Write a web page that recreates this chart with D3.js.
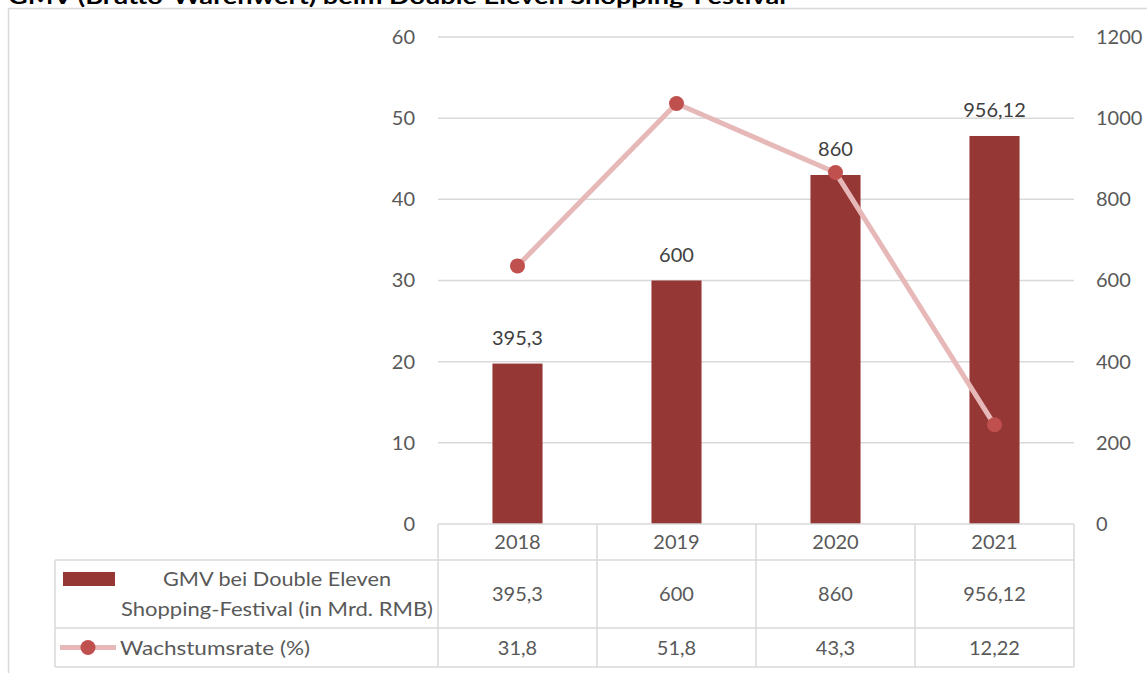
<!DOCTYPE html>
<html>
<head>
<meta charset="utf-8">
<script src="https://cdn.jsdelivr.net/npm/d3@7"></script>
<style>
  html, body { margin: 0; padding: 0; background: #fff; }
  svg { display: block; }
  text { font-family: Lato, "Open Sans", sans-serif; }
</style>
</head>
<body>
<svg id="chart" width="1147" height="673"></svg>
<script>
// Data
const titleText = "GMV (Brutto-Warenwert) beim Double Eleven Shopping-Festival";
const years = ["2018", "2019", "2020", "2021"];
const gmv = [395.3, 600, 860, 956.12];
const gmvLabels = ["395,3", "600", "860", "956,12"];
const growth = [31.8, 51.8, 43.3, 12.22];
const growthLabels = ["31,8", "51,8", "43,3", "12,22"];
const leftTicks = [0, 10, 20, 30, 40, 50, 60];
const rightTicks = [0, 200, 400, 600, 800, 1000, 1200];
const seriesNames = ["GMV bei Double Eleven", "Shopping-Festival (in Mrd. RMB)"];
const lineName = "Wachstumsrate (%)";

const barColor = "#953735";
const lineColor = "#E6B9B8";
const dotColor = "#C0504D";
const gridColor = "#D9D9D9";
const textColor = "#595959";
const fs = 20;

const svg = d3.select("#chart");

// Outer frame (top and left edges) and the title running above it
svg.append("text")
  .attr("x", 8).attr("y", 3.5)
  .attr("font-size", 20).attr("font-weight", "bold").attr("fill", "#000")
  .attr("textLength", 778).attr("lengthAdjust", "spacingAndGlyphs")
  .text(titleText);
svg.append("path")
  .attr("d", "M8.5,673 V8.5 H1147")
  .attr("fill", "none").attr("stroke", gridColor).attr("stroke-width", 1.5);

// Scales
const x = d3.scaleBand().domain(years).range([438, 1074]);
const yL = d3.scaleLinear().domain([0, 60]).range([524, 37]);
const yR = d3.scaleLinear().domain([0, 1200]).range([524, 37]);
const barW = x.bandwidth() * 0.315;

// Gridlines
svg.append("g").selectAll("line")
  .data(leftTicks.filter(d => d > 0))
  .join("line")
  .attr("x1", 438).attr("x2", 1074)
  .attr("y1", d => yL(d)).attr("y2", d => yL(d))
  .attr("stroke", gridColor).attr("stroke-width", 1.5);

// Axes (labels only)
const axL = svg.append("g").attr("transform", "translate(438,0)")
  .call(d3.axisLeft(yL).tickValues(leftTicks).tickSize(0).tickPadding(23).tickFormat(d3.format("d")));
const axR = svg.append("g").attr("transform", "translate(1074,0)")
  .call(d3.axisRight(yR).tickValues(rightTicks).tickSize(0).tickPadding(22).tickFormat(d3.format("d")));
[axL, axR].forEach(ax => {
  ax.select(".domain").remove();
  ax.selectAll("text").attr("font-size", fs).attr("fill", textColor)
    .attr("font-family", "Lato, 'Open Sans', sans-serif");
});

// Bars
svg.append("g").selectAll("rect")
  .data(years)
  .join("rect")
  .attr("x", (d) => x(d) + (x.bandwidth() - barW) / 2)
  .attr("width", barW)
  .attr("y", (d, i) => yR(gmv[i]))
  .attr("height", (d, i) => yR(0) - yR(gmv[i]))
  .attr("fill", barColor);

// Bar value labels
svg.append("g").selectAll("text")
  .data(years)
  .join("text")
  .attr("x", d => x(d) + x.bandwidth() / 2)
  .attr("y", (d, i) => yR(gmv[i]) - 26)
  .attr("dy", "0.35em")
  .attr("text-anchor", "middle")
  .attr("font-size", fs).attr("fill", "#404040")
  .text((d, i) => gmvLabels[i]);

// Growth line
const line = d3.line()
  .x((d, i) => x(years[i]) + x.bandwidth() / 2)
  .y(d => yL(d));
svg.append("path")
  .datum(growth)
  .attr("d", line)
  .attr("fill", "none").attr("stroke", lineColor).attr("stroke-width", 5)
  .attr("stroke-linejoin", "round");
svg.append("g").selectAll("circle")
  .data(growth)
  .join("circle")
  .attr("cx", (d, i) => x(years[i]) + x.bandwidth() / 2)
  .attr("cy", d => yL(d))
  .attr("r", 7.5)
  .attr("fill", dotColor);

// Data table
const rowY = [524, 560, 628, 667];
const legendLeft = 55;
const tbl = svg.append("g").attr("stroke", gridColor).attr("stroke-width", 1.5).attr("fill", "none");
tbl.append("line").attr("x1", 438).attr("x2", 1074).attr("y1", rowY[0]).attr("y2", rowY[0]);
[1, 2, 3].forEach(k => {
  tbl.append("line").attr("x1", legendLeft).attr("x2", 1074).attr("y1", rowY[k]).attr("y2", rowY[k]);
});
tbl.append("line").attr("x1", legendLeft).attr("x2", legendLeft).attr("y1", rowY[1]).attr("y2", rowY[3]);
years.concat(["end"]).forEach((d, i) => {
  const xx = i < years.length ? x(d) : x.range()[1];
  tbl.append("line").attr("x1", xx).attr("x2", xx).attr("y1", rowY[0]).attr("y2", rowY[3]);
});

const cells = svg.append("g").attr("font-size", fs).attr("fill", textColor).attr("text-anchor", "middle");
years.forEach((d, i) => {
  const cx = x(d) + x.bandwidth() / 2;
  cells.append("text").attr("x", cx).attr("y", (rowY[0] + rowY[1]) / 2).attr("dy", "0.35em").text(d);
  cells.append("text").attr("x", cx).attr("y", (rowY[1] + rowY[2]) / 2).attr("dy", "0.35em").text(gmvLabels[i]);
  cells.append("text").attr("x", cx).attr("y", (rowY[2] + rowY[3]) / 2).attr("dy", "0.35em").text(growthLabels[i]);
});

// Legend keys inside the table
svg.append("rect").attr("x", 63).attr("y", 572).attr("width", 52).attr("height", 14).attr("fill", barColor);
const lt = svg.append("text").attr("font-size", fs).attr("fill", textColor).attr("text-anchor", "middle");
lt.append("tspan").attr("x", 277).attr("y", 579).attr("dy", "0.35em")
  .attr("textLength", 228).attr("lengthAdjust", "spacingAndGlyphs").text(seriesNames[0]);
lt.append("tspan").attr("x", 277).attr("y", 609).attr("dy", "0.35em")
  .attr("textLength", 312).attr("lengthAdjust", "spacingAndGlyphs").text(seriesNames[1]);

const ly = (rowY[2] + rowY[3]) / 2;
svg.append("line").attr("x1", 60).attr("x2", 116).attr("y1", ly).attr("y2", ly)
  .attr("stroke", lineColor).attr("stroke-width", 5);
svg.append("circle").attr("cx", 88).attr("cy", ly).attr("r", 7.5).attr("fill", dotColor);
svg.append("text").attr("x", 120).attr("y", ly).attr("dy", "0.35em")
  .attr("font-size", fs).attr("fill", textColor)
  .attr("textLength", 190).attr("lengthAdjust", "spacingAndGlyphs").text(lineName);
</script>
</body>
</html>
